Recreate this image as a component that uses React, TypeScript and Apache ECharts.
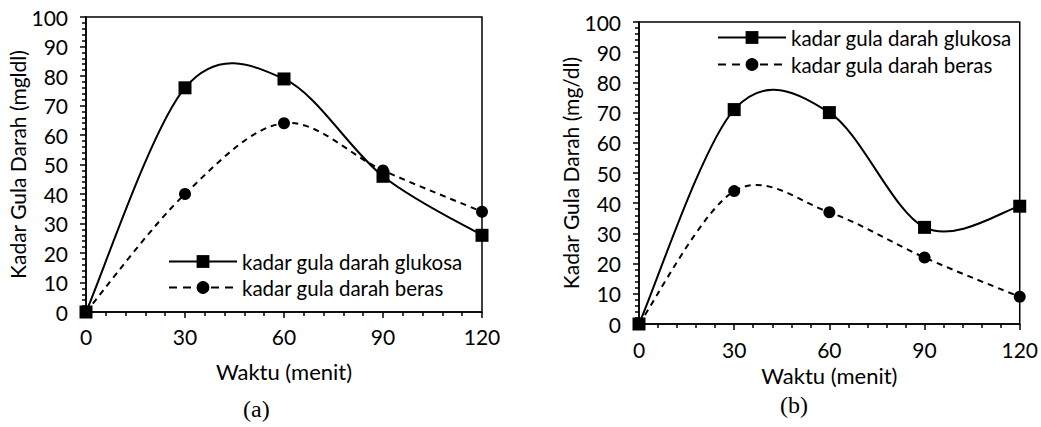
import React, { useEffect, useRef } from "react";
import * as echarts from "echarts";

const times = [0, 30, 60, 90, 120];
const glukosaA = [0, 76, 79, 46, 26];
const berasA = [0, 40, 64, 48, 34];
const glukosaB = [0, 71, 70, 32, 39];
const berasB = [0, 44, 37, 22, 9];
const nameGlukosa = "kadar gula darah glukosa";
const nameBeras = "kadar gula darah beras";
const xTitle = "Waktu (menit)";
const yTitleA = "Kadar Gula Darah (mgldl)";
const yTitleB = "Kadar Gula Darah (mg/dl)";

const FONT = "Lato";

function pairs(ys: number[]) {
  return times.map((t, i) => [t, ys[i]]);
}

function xAxis(gridIndex: number, margin: number, nameGap: number) {
  return {
    type: "value",
    gridIndex,
    min: 0,
    max: 120,
    interval: 30,
    name: xTitle,
    nameLocation: "middle",
    nameGap,
    nameTextStyle: { color: "#000", fontFamily: FONT, fontSize: 22 },
    axisLine: { show: true, lineStyle: { color: "#000", width: 1.5 } },
    axisTick: { show: true, length: 6, lineStyle: { color: "#000", width: 1.5 } },
    minorTick: { show: true, splitNumber: 5, length: 4, lineStyle: { color: "#000", width: 1.5 } },
    axisLabel: { color: "#000", fontFamily: FONT, fontSize: 21, margin },
    splitLine: { show: false },
  };
}

function yAxis(gridIndex: number, name: string, nameGap: number) {
  return {
    type: "value",
    gridIndex,
    min: 0,
    max: 100,
    interval: 10,
    name,
    nameLocation: "middle",
    nameGap,
    nameTextStyle: { color: "#000", fontFamily: FONT, fontSize: 21 },
    axisLine: { show: true, lineStyle: { color: "#000", width: 1.5 } },
    axisTick: { show: true, length: 6, lineStyle: { color: "#000", width: 1.5 } },
    minorTick: { show: true, splitNumber: 5, length: 4, lineStyle: { color: "#000", width: 1.5 } },
    axisLabel: { color: "#000", fontFamily: FONT, fontSize: 21, margin: 18 },
    splitLine: { show: false },
  };
}

// Markers (line series, its own line hidden) – legend entries come from these
function markerSeries(name: string, ys: number[], idx: number, dashed: boolean) {
  return {
    type: "line",
    name,
    xAxisIndex: idx,
    yAxisIndex: idx,
    data: pairs(ys),
    symbol: dashed ? "circle" : "rect",
    symbolSize: dashed ? 12 : 13,
    itemStyle: { color: "#000" },
    lineStyle: { color: "#000", width: 2, opacity: 0, type: dashed ? [6, 5] : "solid" },
    z: 5,
  };
}

// Excel-style smoothed curve through the data points (Catmull-Rom via the axes' coord)
function curveSeries(ys: number[], idx: number, dashed: boolean) {
  const data = pairs(ys);
  return {
    type: "custom",
    xAxisIndex: idx,
    yAxisIndex: idx,
    data,
    encode: { x: 0, y: 1 },
    z: 3,
    silent: true,
    renderItem: (params: any, api: any) => {
      if (params.dataIndex !== 0) return null;
      const pts = data.map((d) => api.coord(d));
      const n = pts.length;
      let d = `M${pts[0][0]},${pts[0][1]}`;
      for (let i = 0; i < n - 1; i++) {
        const p0 = pts[Math.max(i - 1, 0)];
        const p1 = pts[i];
        const p2 = pts[i + 1];
        const p3 = pts[Math.min(i + 2, n - 1)];
        const c1x = p1[0] + (p2[0] - p0[0]) / 6;
        const c1y = p1[1] + (p2[1] - p0[1]) / 6;
        const c2x = p2[0] - (p3[0] - p1[0]) / 6;
        const c2y = p2[1] - (p3[1] - p1[1]) / 6;
        d += ` C${c1x},${c1y} ${c2x},${c2y} ${p2[0]},${p2[1]}`;
      }
      return {
        type: "path",
        shape: { pathData: d },
        style: { stroke: "#000", lineWidth: 2, fill: null, lineDash: dashed ? [6, 5] : null },
      };
    },
  };
}

export default function App() {
  const ref = useRef<HTMLDivElement>(null);
  useEffect(() => {
    if (!ref.current) return;
    const chart = echarts.init(ref.current, undefined, { renderer: "svg" });
    const legendCommon = {
      orient: "vertical",
      padding: 0,
      itemWidth: 68,
      itemHeight: 16,
      itemGap: 5,
      textStyle: { color: "#000", fontFamily: FONT, fontSize: 20.5 },
    };
    const solid = { color: "#000", width: 2, opacity: 1, type: "solid" };
    const dash = { color: "#000", width: 2, opacity: 1, type: [8, 6] };
    chart.setOption({
      animation: false,
      backgroundColor: "#fff",
      grid: [
        { left: 86, right: 1041 - 482, top: 17, bottom: 427 - 312, show: true, borderColor: "#000", borderWidth: 1.5 },
        { left: 639, right: 1041 - 1021, top: 22, bottom: 427 - 324, show: true, borderColor: "#000", borderWidth: 1.5 },
      ],
      xAxis: [xAxis(0, 14, 48), xAxis(1, 15, 32)],
      yAxis: [yAxis(0, yTitleA, 51), yAxis(1, yTitleB, 56)],
      legend: [
        {
          ...legendCommon,
          left: 168,
          top: 251,
          data: [
            { name: nameGlukosa, lineStyle: solid },
            { name: nameBeras, lineStyle: dash },
          ],
        },
        {
          ...legendCommon,
          left: 717,
          top: 27,
          itemGap: 6,
          data: [
            { name: nameGlukosa + " ", lineStyle: solid },
            { name: nameBeras + " ", lineStyle: dash },
          ],
        },
      ],
      series: [
        curveSeries(glukosaA, 0, false),
        curveSeries(berasA, 0, true),
        curveSeries(glukosaB, 1, false),
        curveSeries(berasB, 1, true),
        markerSeries(nameGlukosa, glukosaA, 0, false),
        markerSeries(nameBeras, berasA, 0, true),
        markerSeries(nameGlukosa + " ", glukosaB, 1, false),
        markerSeries(nameBeras + " ", berasB, 1, true),
      ],
      graphic: [
        { type: "text", left: 243, top: 397, style: { text: "(a)", fontFamily: "Liberation Serif", fontSize: 24, fill: "#000" } },
        { type: "text", left: 780, top: 393, style: { text: "(b)", fontFamily: "Liberation Serif", fontSize: 24, fill: "#000" } },
      ],
    });
    return () => chart.dispose();
  }, []);
  return <div ref={ref} style={{ position: "absolute", left: 0, top: 0, width: 1041, height: 427 }} />;
}
